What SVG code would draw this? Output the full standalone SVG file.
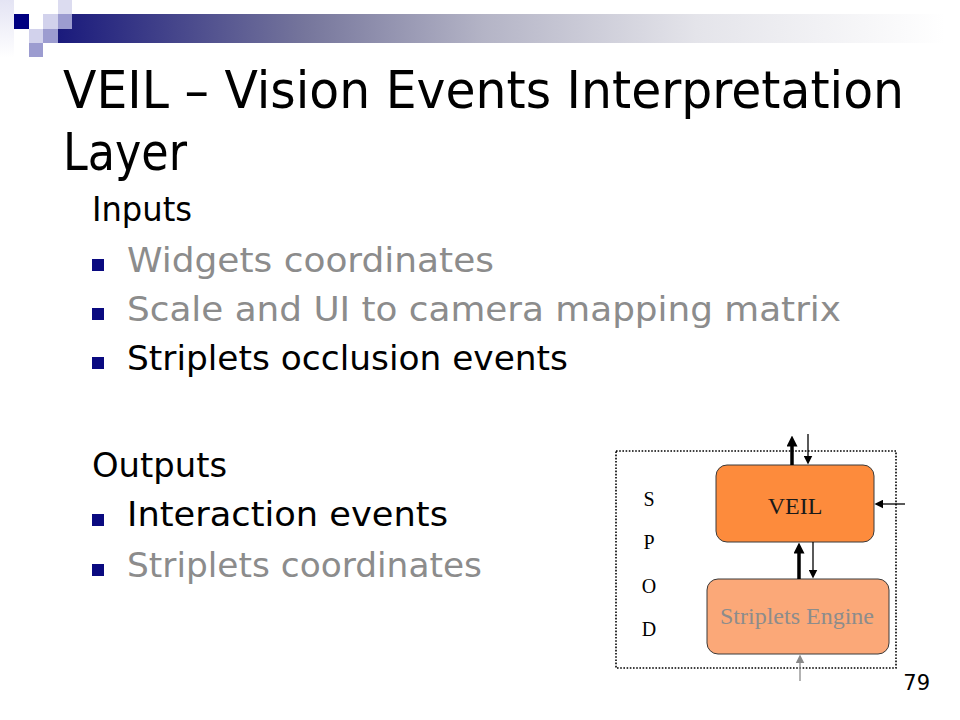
<svg xmlns="http://www.w3.org/2000/svg" width="960" height="720" viewBox="0 0 960 720">
<defs>
<linearGradient id="bar" gradientUnits="userSpaceOnUse" x1="58" y1="0" x2="945" y2="0">
<stop offset="0" stop-color="#1a1a7c"/>
<stop offset="0.28" stop-color="#76769c"/>
<stop offset="0.48" stop-color="#b4b4c6"/>
<stop offset="0.72" stop-color="#e4e4ea"/>
<stop offset="1" stop-color="#ffffff"/>
</linearGradient>
<linearGradient id="strip" x1="0" y1="0" x2="0" y2="1">
<stop offset="0" stop-color="#e4e4f4"/>
<stop offset="1" stop-color="#ffffff"/>
</linearGradient>
<marker id="headThick" viewBox="0 0 10 10" refX="0.5" refY="5" markerUnits="userSpaceOnUse" markerWidth="11" markerHeight="11" orient="auto">
<path d="M0,0 L10,5 L0,10 Z" fill="#000"/>
</marker>
<marker id="headThin" viewBox="0 0 10 10" refX="0.5" refY="5" markerUnits="userSpaceOnUse" markerWidth="9" markerHeight="9" orient="auto">
<path d="M0,0 L10,5 L0,10 Z" fill="#000"/>
</marker>
<marker id="headGrey" viewBox="0 0 10 10" refX="0.5" refY="5" markerUnits="userSpaceOnUse" markerWidth="9" markerHeight="9" orient="auto">
<path d="M0,0 L10,5 L0,10 Z" fill="#8a8a8a"/>
</marker>
</defs>
<style>
.title{font-family:"DejaVu Sans","Liberation Sans",sans-serif;font-size:52px;fill:#000}
.body{font-family:"DejaVu Sans","Liberation Sans",sans-serif;font-size:33px}
.blk{fill:#000}
.gry{fill:#8c8c8c}
.bul{fill:#0a0a80}
.serif{font-family:"Liberation Serif","Times New Roman",serif}
.node{stroke:#3a3a3a;stroke-width:1}
.thick{stroke:#000;stroke-width:3.5;fill:none}
.thin{stroke:#000;stroke-width:1.3;fill:none}
</style>
<rect width="960" height="720" fill="#ffffff"/>
<g id="decoration">
<rect x="0" y="0" width="14" height="58" fill="url(#strip)"/>
<rect x="58" y="0" width="14" height="14" fill="#dcdcf0"/>
<rect x="14" y="14" width="15" height="15" fill="#000080"/>
<rect x="43" y="14" width="15" height="15" fill="#d2d2ec"/>
<rect x="58" y="14" width="14" height="15" fill="#9c9cd0"/>
<rect x="29" y="29" width="14" height="14" fill="#d2d2ec"/>
<rect x="43" y="29" width="15" height="14" fill="#9c9cd0"/>
<rect x="29" y="43" width="14" height="14" fill="#9c9cd0"/>
<path d="M72,14 H945 V43 H58 V29 H72 Z" fill="url(#bar)"/>
</g>
<g id="title">
<text class="title" x="63" y="108" textLength="841" lengthAdjust="spacingAndGlyphs">VEIL – Vision Events Interpretation</text>
<text class="title" x="63" y="170" textLength="124" lengthAdjust="spacingAndGlyphs">Layer</text>
</g>
<g id="bullets">
<text class="body blk" x="92" y="221" textLength="100" lengthAdjust="spacingAndGlyphs">Inputs</text>
<rect class="bul" x="92" y="259" width="12" height="12"/>
<text class="body gry" x="127" y="272" textLength="367" lengthAdjust="spacingAndGlyphs">Widgets coordinates</text>
<rect class="bul" x="92" y="308" width="12" height="12"/>
<text class="body gry" x="127" y="321" textLength="714" lengthAdjust="spacingAndGlyphs">Scale and UI to camera mapping matrix</text>
<rect class="bul" x="92" y="357" width="12" height="12"/>
<text class="body blk" x="127" y="370" textLength="441" lengthAdjust="spacingAndGlyphs">Striplets occlusion events</text>
<text class="body blk" x="92" y="477" textLength="135" lengthAdjust="spacingAndGlyphs">Outputs</text>
<rect class="bul" x="92" y="514" width="12" height="12"/>
<text class="body blk" x="127" y="526" textLength="321" lengthAdjust="spacingAndGlyphs">Interaction events</text>
<rect class="bul" x="92" y="564" width="12" height="12"/>
<text class="body gry" x="127" y="577" textLength="355" lengthAdjust="spacingAndGlyphs">Striplets coordinates</text>
</g>
<g id="spod">
<rect x="616" y="451" width="280" height="217" fill="none" stroke="#000" stroke-width="1.6" stroke-dasharray="1.6 1.6"/>
<g class="serif" font-size="20" text-anchor="middle" fill="#000">
<text x="649" y="506">S</text>
<text x="649" y="549">P</text>
<text x="649" y="593">O</text>
<text x="649" y="636">D</text>
</g>
</g>
<g id="veil">
<rect class="node" x="716" y="465" width="158" height="77" rx="11" fill="#fd8b3c"/>
<text class="serif" x="795" y="514" font-size="24" text-anchor="middle" fill="#1a1a1a">VEIL</text>
</g>
<g id="striplets-engine">
<rect class="node" x="707" y="579" width="182" height="75" rx="11" fill="#fba878"/>
<text class="serif" x="797" y="624" font-size="24" text-anchor="middle" fill="#8c8c8c">Striplets Engine</text>
</g>
<g id="connectors">
<line class="thick" x1="792" y1="465" x2="792" y2="446" marker-end="url(#headThick)"/>
<line class="thin" x1="808" y1="434" x2="808" y2="456" marker-end="url(#headThin)"/>
<line class="thin" x1="905" y1="504" x2="883" y2="504" marker-end="url(#headThin)"/>
<line class="thick" x1="799" y1="579" x2="799" y2="553" marker-end="url(#headThick)"/>
<line class="thin" x1="813" y1="542" x2="813" y2="570" marker-end="url(#headThin)"/>
<line x1="800" y1="681" x2="800" y2="663" stroke="#8a8a8a" stroke-width="1.3" marker-end="url(#headGrey)"/>
</g>
<text x="930" y="690" font-family="DejaVu Sans, Liberation Sans, sans-serif" font-size="21" text-anchor="end" fill="#000">79</text>
</svg>
